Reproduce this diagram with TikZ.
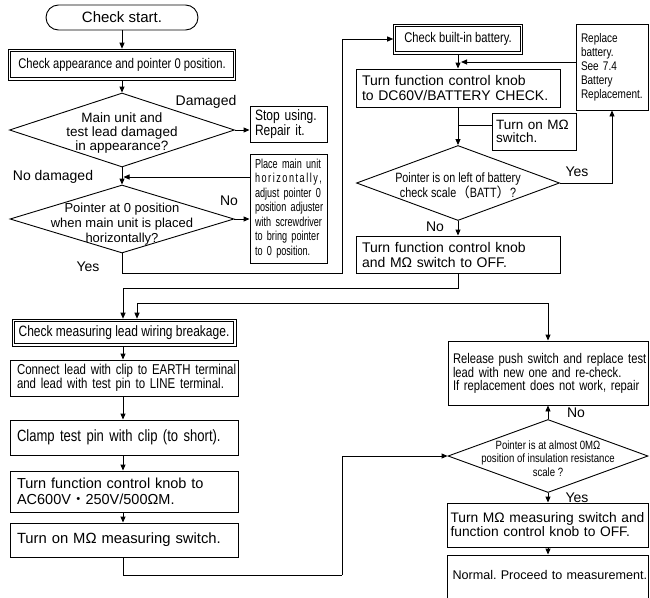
\documentclass[tikz,border=0pt]{standalone}
\usepackage{fontspec}
\setmainfont{Liberation Sans}
\newfontfamily\cnd[FakeStretch=0.8]{Liberation Sans}
\newfontfamily\cndx[FakeStretch=0.7]{Liberation Sans}
\newfontfamily\cjk{Noto Sans CJK SC}
\usetikzlibrary{arrows.meta,shapes.geometric}
\newcommand\jl[2]{\makebox[#1][s]{#2}}
\newcommand\nb[1]{\mbox{#1}}
\newcommand\fsz[2]{\fontsize{#1}{#2}\selectfont}
\frenchspacing
\begin{document}
\frenchspacing
\begin{tikzpicture}[x=1pt,y=-1pt,
  box/.style={draw, line width=0.9pt, inner sep=0pt, rectangle},
  dbox/.style={draw, rectangle, inner sep=0pt, line width=0.6pt},
  inbox/.style={line width=0.9pt},
  dia/.style={draw, diamond, line width=0.9pt, inner sep=0pt},
  arr/.style={line width=0.9pt, -{Triangle[length=6pt,width=5pt]}},
  arrboth/.style={line width=0.9pt, {Triangle[length=6pt,width=5pt]}-{Triangle[length=6pt,width=5pt]}},
  ln/.style={line width=0.9pt},
  lbl/.style={inner sep=0pt, font=\fsz{14}{16}},
]
\useasboundingbox (0,0) rectangle (650,597);

% ---------- left upper column ----------
\node[box, rounded corners=12.5pt, minimum width=152pt, minimum height=25pt, font=\fsz{15}{17}] (start) at (122,17.5) {Check start.};
\node[dbox, minimum width=227pt, minimum height=31pt, font=\cnd\fsz{14}{16}] (chk1) at (122,64.5) {Check appearance and pointer 0 position.};
\draw[inbox] ([shift={(2.5,2.5)}]chk1.north west) rectangle ([shift={(-2.5,-2.5)}]chk1.south east);
\node[dia, minimum width=225pt, minimum height=74pt] (d1) at (122,130) {};
\node[lbl, align=center, font=\fsz{13.5}{14}] (d1t) at ([yshift=-3pt]d1.center) {Main unit and\\test lead damaged\\in appearance?};
\node[box, minimum width=77pt, minimum height=36pt, text width=67pt, align=left, font=\cnd\fsz{15}{15}] (stop) at (288.5,124) {\nb{Stop using.}\\\nb{Repair it.}};
\node[box, minimum width=77pt, minimum height=109pt, text width=67pt, align=left, font=\cndx\fsz{13}{14.5}] (place) at (288.5,208.5)
 {\jl{67pt}{Place main unit}\\
  \jl{67pt}{h\hfil o\hfil r\hfil i\hfil z\hfil o\hfil n\hfil t\hfil a\hfil l\hfil l\hfil y\hfil ,}\\
  \jl{67pt}{adjust pointer 0}\\
  \jl{67pt}{position adjuster}\\
  \jl{67pt}{with screwdriver}\\
  \jl{67pt}{to bring pointer}\\
  \nb{to 0 position.}};
\node[dia, minimum width=224pt, minimum height=68pt] (d2) at (122,219) {};
\node[lbl, align=center, font=\fsz{13}{15}] (d2t) at ([yshift=-5pt]d2.center) {Pointer at 0 position\\when main unit is placed\\horizontally?};

% ---------- right upper column ----------
\node[dbox, minimum width=129pt, minimum height=30pt, font=\cnd\fsz{14}{16}] (cb) at (458,39) {Check built-in battery.};
\draw[inbox] ([shift={(2.5,2.5)}]cb.north west) rectangle ([shift={(-2.5,-2.5)}]cb.south east);
\node[box, minimum width=204pt, minimum height=38pt, text width=192pt, align=left, font=\fsz{14}{15}] (tf1) at (458,88)
 {\jl{192pt}{Turn function control knob}\\\nb{to DC60V/BATTERY CHECK.}};
\node[box, minimum width=72pt, minimum height=86pt, text width=62pt, align=left, font=\cnd\fsz{12.5}{14}] (rep) at (612,67)
 {\nb{Replace}\\\nb{battery.}\\\nb{See 7.4}\\\nb{Battery}\\\nb{Replacement.}};
\node[box, minimum width=84pt, minimum height=37pt, text width=76pt, align=left, font=\fsz{13.5}{13.5}] (onm) at (534,131.5)
 {\jl{76pt}{Turn on MΩ}\\\nb{switch.}};
\node[dia, minimum width=203pt, minimum height=75pt] (d3) at (458,183) {};
\node[lbl, align=center, font=\cnd\fsz{13.5}{15}] (d3t) at ([yshift=-2.5pt]d3.center) {Pointer is on left of battery\\check scale{\cjk （}BATT{\cjk ）}?};
\node[box, minimum width=204pt, minimum height=37pt, text width=192pt, align=left, font=\fsz{14}{15}] (tf2) at (458,254.5)
 {\jl{192pt}{Turn function control knob}\\\nb{and MΩ switch to OFF.}};

% ---------- left lower column ----------
\node[dbox, minimum width=224pt, minimum height=27pt, font=\cnd\fsz{15}{16}] (cm) at (124,332.5) {Check measuring lead wiring breakage.};
\draw[inbox] ([shift={(2.5,2.5)}]cm.north west) rectangle ([shift={(-2.5,-2.5)}]cm.south east);
\node[box, minimum width=228pt, minimum height=36pt, text width=214pt, align=left, font=\cnd\fsz{14.3}{13.5}] (cl) at (124,378)
 {\nb{Connect lead with clip to EARTH terminal}\\\nb{and lead with test pin to LINE terminal.}};
\node[box, minimum width=228pt, minimum height=35pt, text width=214pt, align=left, font=\cnd\fsz{16.3}{17}] (cp) at (124,437.5)
 {\nb{Clamp test pin with clip (to short).}};
\node[box, minimum width=228pt, minimum height=41pt, text width=214pt, align=left, font=\fsz{14.5}{16}] (tf3) at (124,491.5)
 {\jl{210pt}{Turn function control knob to}\\\nb{AC600V{\cjk ・}250V/500ΩM.}};
\node[box, minimum width=228pt, minimum height=34pt, text width=214pt, align=left, font=\fsz{14.8}{16}] (ton) at (124,540)
 {\nb{Turn on MΩ measuring switch.}};

% ---------- right lower column ----------
\node[box, minimum width=200pt, minimum height=64pt, text width=190pt, align=left, font=\cnd\fsz{14}{13}] (rel) at (548,373)
 {\nb{Release push switch and replace test}\\\nb{lead with new one and re-check.}\\\nb{If replacement does not work, repair}};
\node[dia, minimum width=200pt, minimum height=73pt] (d4) at (548,456) {};
\node[lbl, align=center, font=\cnd\fsz{12}{13.5}] (d4t) at ([yshift=-2.5pt]d4.center) {Pointer is at almost 0MΩ\\position of insulation resistance\\scale ?};
\node[box, minimum width=201pt, minimum height=44pt, text width=195pt, align=left, font=\fsz{13.8}{14}] (tm) at (548,525)
 {\jl{195pt}{Turn MΩ measuring switch and}\\\nb{function control knob to OFF.}};
\node[box, minimum width=201pt, minimum height=70pt] (nm) at (548,590) {};
\node[lbl, text width=193pt, align=left, font=\fsz{12.6}{14}] (nmt) at (549,575) {\nb{Normal. Proceed to measurement.}};

% ---------- branch labels ----------
\node[lbl] (lDam) at (206,102) {Damaged};
\node[lbl] (lNoD) at (53,177) {No damaged};
\node[lbl] (lNo1) at (229,201) {No};
\node[lbl] (lYes1) at (88,267) {Yes};
\node[lbl] (lYes2) at (577,172) {Yes};
\node[lbl] (lNo2) at (435,227) {No};
\node[lbl] (lNo3) at (576,413) {No};
\node[lbl] (lYes3) at (577,498) {Yes};

% ---------- coordinates ----------
\coordinate (pj) at (123.5,177);
\coordinate (c1) at (342,273);
\coordinate (rj) at (461,62);
\coordinate (oj) at (458,125);
\coordinate (c2) at (123,288);
\coordinate (c3) at (137,303);
\coordinate (c4) at (342,575);

% ---------- connectors ----------
\draw[arr] (start.south) -- (start.south |- chk1.north);
\draw[arr] (chk1.south) -- (d1.north);
\draw[arr] (d1.east) -- (d1.east -| stop.west);
\draw[arr] (d1.south) -- (d2.north);
\draw[arr] (pj -| place.west) -- (pj);
\draw[arr] (d2.east) -- (d2.east -| place.west);
\draw[arr] (d2.south) |- (c1) |- (cb.west);
\draw[arr] (cb.south) -- (tf1.north);
\draw[arr] (rj -| rep.west) -- (rj);
\draw[arr] (tf1.south) -- (d3.north);
\draw[ln] (oj) -- (oj -| onm.west);
\draw[arr] (d3.east) -| (rep.south);
\draw[arr] (d3.south) -- (tf2.north);
\draw[arr] (tf2.south) |- (c2) -- (c2 |- cm.north);
\draw[arrboth] (rel.north) |- (c3) -- (c3 |- cm.north);
\draw[arr] (cm.south -| c2) -- (c2 |- cl.north);
\draw[arr] (cl.south -| c2) -- (c2 |- cp.north);
\draw[arr] (cp.south -| c2) -- (c2 |- tf3.north);
\draw[arr] (tf3.south -| c2) -- (c2 |- ton.north);
\draw[ln] (ton.south -| c2) |- (c4);
\draw[arr] (c4) |- (d4.west);
\draw[arr] (d4.north) -- (rel.south);
\draw[arr] (d4.south) -- (tm.north);
\draw[arr] (tm.south) -- (nm.north);
\end{tikzpicture}
\end{document}
